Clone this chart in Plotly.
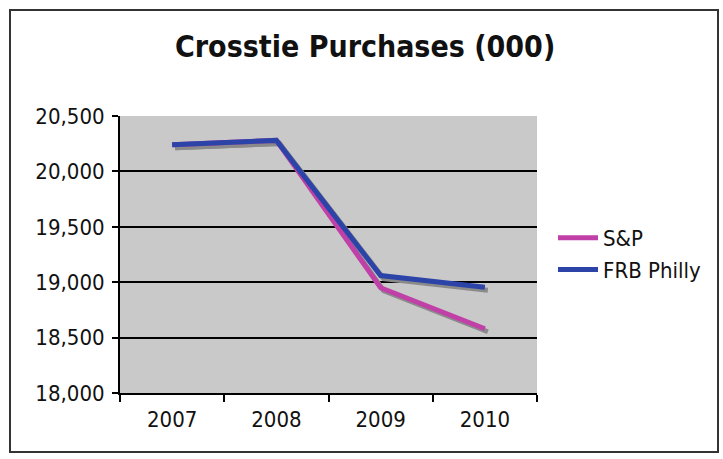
import plotly.graph_objects as go

years = ["2007", "2008", "2009", "2010"]
sp_values = [20240, 20280, 18950, 18580]
frb_values = [20240, 20280, 19060, 18955]
y_ticks = [18000, 18500, 19000, 19500, 20000, 20500]
y_tick_labels = ["18,000", "18,500", "19,000", "19,500", "20,000", "20,500"]

W, H = 723, 459
L, R, T, B = 120, 540, 116, 396  # pixel extent of plotting region (incl. shadow offset)
pw, ph = R - L, B - T
sh = 3  # shadow offset px
dx, dy = sh / pw, sh / ph

def px(x):
    return (x - L) / pw

def py(y):
    return (B - y) / ph

FONT = "Tahoma, 'DejaVu Sans Condensed', 'DejaVu Sans', sans-serif"
SP_COLOR = "#c040a8"
FRB_COLOR = "#2c44a8"
SHADOW = "#8a8a8a"
PLOT_BG = "#c9c9c9"

fig = go.Figure()

# invisible trace to anchor the visible base axes (x, y)
fig.add_trace(go.Scatter(x=years, y=[None] * len(years), mode="lines",
                         showlegend=False, hoverinfo="skip"))

# shadow traces on a separate subplot shifted right/down by a few pixels
for vals in (sp_values, frb_values):
    fig.add_trace(go.Scatter(x=years, y=vals, mode="lines", xaxis="x2", yaxis="y2",
                             line=dict(color=SHADOW, width=5), showlegend=False,
                             hoverinfo="skip"))

# main traces on a separate subplot with the same domain as the visible axes
fig.add_trace(go.Scatter(x=years, y=sp_values, name="S&P", mode="lines",
                         xaxis="x3", yaxis="y3",
                         line=dict(color=SP_COLOR, width=5)))
fig.add_trace(go.Scatter(x=years, y=frb_values, name="FRB Philly", mode="lines",
                         xaxis="x3", yaxis="y3",
                         line=dict(color=FRB_COLOR, width=5)))

yr = [18000, 20500]
cat_range = [-0.5, 3.5]
hidden = dict(visible=False, showgrid=False, zeroline=False, fixedrange=True)
fig.update_layout(
    width=W, height=H,
    margin=dict(l=L, r=W - R, t=T, b=H - B, pad=0),
    paper_bgcolor="white",
    plot_bgcolor="rgba(0,0,0,0)",
    font=dict(family=FONT, size=22, color="#111111"),
    title=dict(text="<b>Crosstie Purchases (000)</b>", x=0.505, xanchor="center",
               y=1 - 46 / H, yanchor="middle", font=dict(size=30, family=FONT, color="#111111")),
    xaxis=dict(domain=[0, 1 - dx], type="category", range=cat_range,
               categoryorder="array", categoryarray=years,
               tickson="boundaries", ticks="outside", ticklen=7, tickwidth=2,
               tickcolor="black", showline=True, linecolor="black", linewidth=2,
               showgrid=False, ticklabelstandoff=6, fixedrange=True),
    yaxis=dict(domain=[dy, 1], range=yr, tickvals=y_ticks, ticktext=y_tick_labels,
               ticks="outside", ticklen=6, tickwidth=2, tickcolor="black",
               showline=True, linecolor="black", linewidth=2,
               showgrid=True, gridcolor="black", gridwidth=2, zeroline=False,
               ticklabelstandoff=3, fixedrange=True),
    xaxis2=dict(domain=[dx, 1], type="category", range=cat_range,
                categoryorder="array", categoryarray=years, anchor="y2", **hidden),
    yaxis2=dict(domain=[0, 1 - dy], range=yr, anchor="x2", **hidden),
    xaxis3=dict(domain=[0, 1 - dx], type="category", range=cat_range,
                categoryorder="array", categoryarray=years, anchor="y3", **hidden),
    yaxis3=dict(domain=[dy, 1], range=yr, anchor="x3", **hidden),
    legend=dict(x=px(553), y=py(254), xanchor="left", yanchor="middle",
                bgcolor="rgba(0,0,0,0)", font=dict(size=22, family=FONT),
                tracegroupgap=2, itemwidth=40),
    shapes=[
        dict(type="rect", xref="paper", yref="paper",
             x0=0, x1=1 - dx, y0=dy, y1=1,
             fillcolor=PLOT_BG, line=dict(width=0), layer="below"),
        dict(type="rect", xref="paper", yref="paper",
             x0=px(10), x1=px(718), y0=py(452), y1=py(10),
             line=dict(color="#333333", width=2), layer="below"),
    ],
)

fig.write_html("out.html")
